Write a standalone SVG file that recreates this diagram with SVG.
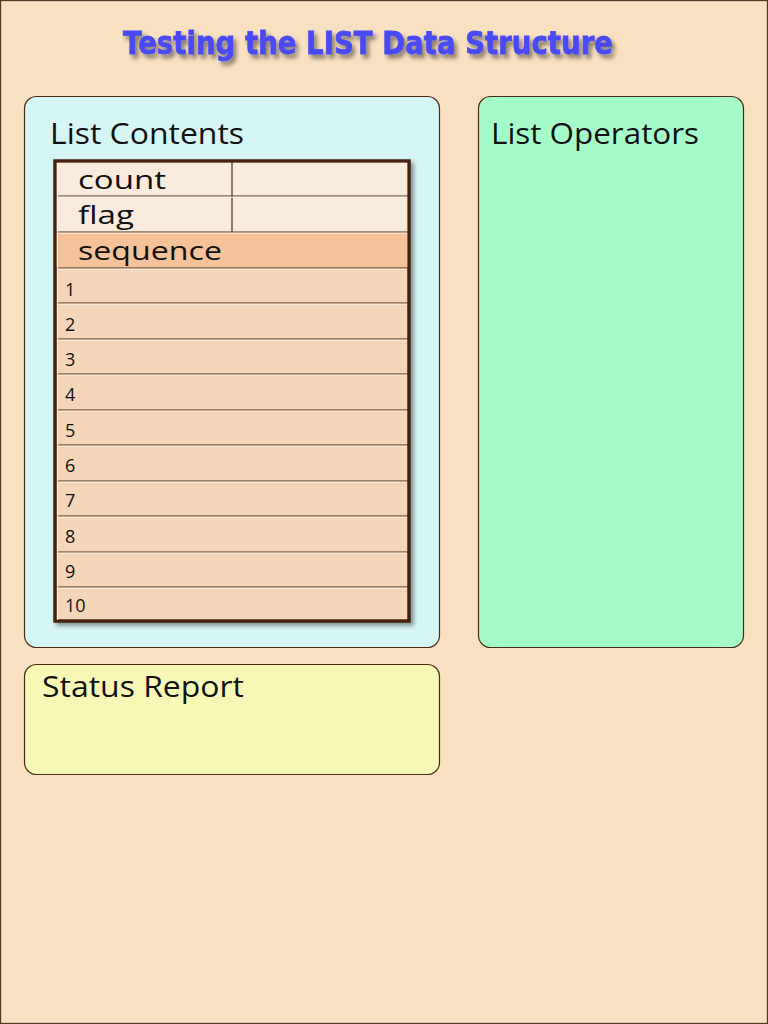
<svg xmlns="http://www.w3.org/2000/svg" width="768" height="1024" viewBox="0 0 768 1024">
<defs>
<filter id="tshadow" x="-10%" y="-30%" width="120%" height="170%">
<feGaussianBlur in="SourceAlpha" stdDeviation="2"/>
<feOffset dx="3" dy="4" result="b"/>
<feComponentTransfer><feFuncA type="linear" slope="0.45"/></feComponentTransfer>
<feMerge><feMergeNode/><feMergeNode in="SourceGraphic"/></feMerge>
</filter>
<filter id="bshadow" x="-10%" y="-10%" width="125%" height="125%">
<feGaussianBlur in="SourceAlpha" stdDeviation="2"/>
<feOffset dx="3" dy="3"/>
<feComponentTransfer><feFuncA type="linear" slope="0.4"/></feComponentTransfer>
<feMerge><feMergeNode/><feMergeNode in="SourceGraphic"/></feMerge>
</filter>
</defs>
<style>
.panel{stroke:#4a2c14;stroke-width:1.2}
.label{font-family:"Open Sans","Liberation Sans",sans-serif;font-size:29px;fill:#111}
.cell{font-family:"Open Sans","Liberation Sans",sans-serif;font-size:26px;fill:#111}
.num{font-family:"Open Sans","Liberation Sans",sans-serif;font-size:18px;fill:#111}
.div{stroke:#4a2c14;stroke-width:1.2}
.hl{stroke:#fff3e6;stroke-width:1}
</style>
<rect x="0" y="0" width="768" height="1024" fill="#f9e0c0"/>
<rect x="1.5" y="1.5" width="765" height="1021" fill="none" stroke="#fff3e0" stroke-width="1"/>
<rect x="0.5" y="0.5" width="767" height="1023" fill="none" stroke="#5a3a22" stroke-width="1.5"/>

<g id="title">
<text x="368" y="54" text-anchor="middle" font-family="'DejaVu Sans','Verdana',sans-serif" font-weight="bold" font-size="32" fill="#4a4af5" stroke="#4a4af5" stroke-width="0.8" textLength="490" lengthAdjust="spacingAndGlyphs" filter="url(#tshadow)">Testing the LIST Data Structure</text>
</g>

<g id="list-contents">
<rect class="panel" x="24.5" y="96.5" width="415" height="551" rx="12" fill="#d6f5f5"/>
<text class="label" x="50" y="144" textLength="194" lengthAdjust="spacingAndGlyphs">List Contents</text>
</g>

<g id="list-table">
<g filter="url(#bshadow)">
<rect x="55" y="161" width="354" height="460" fill="#f6d6b8" stroke="#45220c" stroke-width="3.5"/>
</g>
<rect x="56.8" y="162.8" width="350.4" height="33.2" fill="#faebdf"/>
<rect x="56.8" y="196" width="350.4" height="36" fill="#faebdf"/>
<rect x="56.8" y="232" width="350.4" height="36" fill="#f5c29a"/>
<line class="div" x1="232" y1="162" x2="232" y2="232"/>
<line class="div" x1="56" y1="196" x2="408" y2="196"/>
<line class="div" x1="56" y1="232" x2="408" y2="232"/>
<line class="div" x1="56" y1="268" x2="408" y2="268"/>
<line class="div" x1="56" y1="303" x2="408" y2="303"/>
<line class="div" x1="56" y1="339" x2="408" y2="339"/>
<line class="div" x1="56" y1="374" x2="408" y2="374"/>
<line class="div" x1="56" y1="410" x2="408" y2="410"/>
<line class="div" x1="56" y1="445" x2="408" y2="445"/>
<line class="div" x1="56" y1="481" x2="408" y2="481"/>
<line class="div" x1="56" y1="516" x2="408" y2="516"/>
<line class="div" x1="56" y1="552" x2="408" y2="552"/>
<line class="div" x1="56" y1="587" x2="408" y2="587"/>
<g class="hl">
<line x1="57" y1="197.2" x2="407" y2="197.2"/>
<line x1="57" y1="233.2" x2="407" y2="233.2"/>
<line x1="57" y1="269.2" x2="407" y2="269.2"/>
<line x1="57" y1="304.2" x2="407" y2="304.2"/>
<line x1="57" y1="340.2" x2="407" y2="340.2"/>
<line x1="57" y1="375.2" x2="407" y2="375.2"/>
<line x1="57" y1="411.2" x2="407" y2="411.2"/>
<line x1="57" y1="446.2" x2="407" y2="446.2"/>
<line x1="57" y1="482.2" x2="407" y2="482.2"/>
<line x1="57" y1="517.2" x2="407" y2="517.2"/>
<line x1="57" y1="553.2" x2="407" y2="553.2"/>
<line x1="57" y1="588.2" x2="407" y2="588.2"/>
<line x1="57.5" y1="163" x2="57.5" y2="620"/>
</g>
<text class="cell" x="78" y="189" textLength="88" lengthAdjust="spacingAndGlyphs">count</text>
<text class="cell" x="78" y="224" textLength="56" lengthAdjust="spacingAndGlyphs">flag</text>
<text class="cell" x="78" y="260" textLength="144" lengthAdjust="spacingAndGlyphs">sequence</text>
<text class="num" x="65" y="296">1</text>
<text class="num" x="65" y="331">2</text>
<text class="num" x="65" y="366">3</text>
<text class="num" x="65" y="401">4</text>
<text class="num" x="65" y="437">5</text>
<text class="num" x="65" y="472">6</text>
<text class="num" x="65" y="507">7</text>
<text class="num" x="65" y="543">8</text>
<text class="num" x="65" y="578">9</text>
<text class="num" x="65" y="612">10</text>
</g>

<g id="list-operators">
<rect class="panel" x="478.5" y="96.5" width="265" height="551" rx="12" fill="#a6fcc8"/>
<text class="label" x="491" y="144" textLength="208" lengthAdjust="spacingAndGlyphs">List Operators</text>
</g>

<g id="status-report">
<rect class="panel" x="24.5" y="664.5" width="415" height="110" rx="12" fill="#f8f8b6"/>
<text class="label" x="42" y="697" textLength="202" lengthAdjust="spacingAndGlyphs">Status Report</text>
</g>

<g id="connectors"/>
</svg>
